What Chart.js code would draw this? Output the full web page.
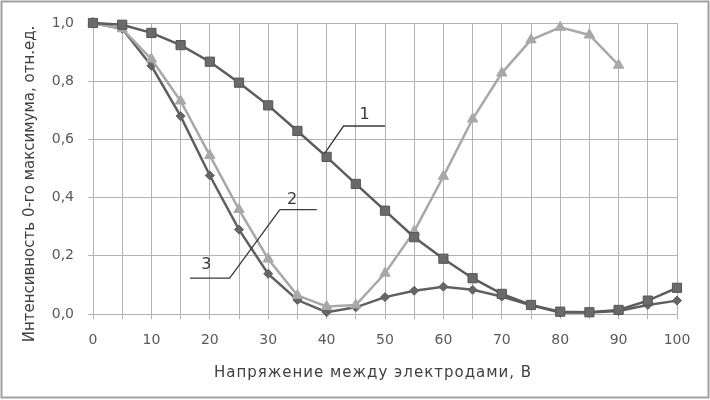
<!DOCTYPE html>
<html>
<head>
<meta charset="utf-8">
<script src="https://cdn.jsdelivr.net/npm/chart.js@4/dist/chart.umd.min.js"></script>
<style>
html,body{margin:0;padding:0;background:#fff;}
#wrap{width:710px;height:400px;position:relative;}
</style>
</head>
<body>
<div id="wrap"><canvas id="c" width="710" height="400"></canvas></div>
<script>
// Voltage between electrodes, V
const voltage = [0,5,10,15,20,25,30,35,40,45,50,55,60,65,70,75,80,85,90,95,100];
// Curve 1 (squares)
const curve1 = [1.0,0.994,0.966,0.924,0.867,0.795,0.717,0.629,0.54,0.447,0.355,0.264,0.19,0.123,0.069,0.031,0.008,0.006,0.014,0.046,0.09];
// Curve 2 (triangles), 0..90 V
const curve2 = [1.0,0.98,0.876,0.732,0.545,0.359,0.189,0.064,0.026,0.031,0.14,0.284,0.473,0.67,0.828,0.942,0.985,0.959,0.855];
// Curve 3 (diamonds)
const curve3 = [1.0,0.98,0.853,0.68,0.476,0.29,0.138,0.048,0.006,0.023,0.058,0.08,0.094,0.083,0.06,0.03,0.005,0.005,0.01,0.031,0.046];
// Y tick labels
const yTicks = [0,0.2,0.4,0.6,0.8,1.0];
// Axis titles
const xTitle = 'Напряжение между электродами, В';
const yTitle = 'Интенсивность 0-го максимума, отн.ед.';
// Callout labels: text and leader polylines in data units
const callouts = [
  {text:'1', at:[46.5,0.685], line:[[50.0,0.646],[42.9,0.646],[39.6,0.55]]},
  {text:'2', at:[34.1,0.393], line:[[38.3,0.359],[32.0,0.359]]},
  {text:'3', at:[19.4,0.169], line:[[16.6,0.123],[23.4,0.123],[32.0,0.359]]}
];

const toPts = (ys) => ys.map((y,i)=>({x:voltage[i], y:y}));
const FONT = '"DejaVu Sans", Verdana, sans-serif';

const calloutPlugin = {
  id:'callouts',
  afterDatasetsDraw(chart){
    const ctx = chart.ctx, xs = chart.scales.x, ys = chart.scales.y;
    ctx.save();
    ctx.strokeStyle = '#3a3a3a';
    ctx.lineWidth = 1.3;
    ctx.fillStyle = '#3a3a3a';
    ctx.font = '16px ' + FONT;
    ctx.textAlign = 'center';
    ctx.textBaseline = 'middle';
    callouts.forEach(c=>{
      ctx.beginPath();
      c.line.forEach((p,i)=>{
        const px = xs.getPixelForValue(p[0]), py = ys.getPixelForValue(p[1]);
        if(i===0) ctx.moveTo(px,py); else ctx.lineTo(px,py);
      });
      ctx.stroke();
      ctx.fillText(c.text, xs.getPixelForValue(c.at[0]), ys.getPixelForValue(c.at[1]));
    });
    ctx.restore();
  }
};

const framePlugin = {
  id:'frame',
  beforeDraw(chart){
    const ctx = chart.ctx;
    ctx.save();
    ctx.fillStyle = '#fff';
    ctx.fillRect(0,0,chart.width,chart.height);
    ctx.restore();
  },
  afterDraw(chart){
    const ctx = chart.ctx;
    ctx.save();
    // axis titles
    ctx.fillStyle = '#404040';
    ctx.font = '15px ' + FONT;
    ctx.letterSpacing = '1px';
    ctx.textAlign = 'center';
    ctx.textBaseline = 'middle';
    ctx.fillText(xTitle, 373, 373);
    ctx.translate(30, 184);
    ctx.rotate(-Math.PI/2);
    ctx.letterSpacing = '0px';
    ctx.fillText(yTitle, 0, 0);
    ctx.restore();
    ctx.save();
    ctx.strokeStyle = '#a0a0a0';
    ctx.lineWidth = 2;
    ctx.strokeRect(1.5,1.5,chart.width-3,chart.height-4);
    ctx.restore();
  }
};

new Chart(document.getElementById('c'), {
  type:'line',
  data:{
    datasets:[
      {label:'1', data:toPts(curve1), borderColor:'#5c5c5c', backgroundColor:'#6a6a6a', borderWidth:2.5,
       pointStyle:'rect', pointRadius:6.5, pointBorderColor:'#555', pointBorderWidth:1, tension:0},
      {label:'2', data:toPts(curve2), borderColor:'#a8a8a8', backgroundColor:'#a8a8a8', borderWidth:2.5,
       pointStyle:'triangle', pointRadius:6, pointBorderWidth:1, tension:0},
      {label:'3', data:toPts(curve3), borderColor:'#606060', backgroundColor:'#666', borderWidth:2.5,
       pointStyle:'rectRot', pointRadius:4.5, pointBorderWidth:1, tension:0}
    ]
  },
  options:{
    responsive:false,
    animation:false,
    clip:false,
    layout:{padding:{left:0,right:33,top:23,bottom:0}},
    plugins:{legend:{display:false}, tooltip:{enabled:false}},
    scales:{
      x:{type:'linear', min:0, max:100,
         grid:{color:'#b2b2b2', lineWidth:1, tickLength:5, drawTicks:true},
         border:{color:'#b2b2b2'},
         ticks:{stepSize:5, autoSkip:false, maxRotation:0, padding:13, color:'#595959',
                font:{family:FONT, size:14},
                callback:(v)=> (v%10===0 ? String(v) : '')},
         title:{display:false},
         afterFit:(s)=>{ s.height = 86; }
      },
      y:{min:0, max:1,
         afterBuildTicks:(s)=>{ s.ticks = yTicks.map(v=>({value:v})); },
         grid:{color:'#b2b2b2', lineWidth:1, tickLength:5},
         border:{color:'#b2b2b2'},
         ticks:{padding:14, color:'#595959',
                font:{family:FONT, size:14},
                callback:(v)=> v.toFixed(1).replace('.',',')},
         title:{display:false},
         afterFit:(s)=>{ s.width = 93; }
      }
    }
  },
  plugins:[framePlugin, calloutPlugin]
});
</script>
</body>
</html>
